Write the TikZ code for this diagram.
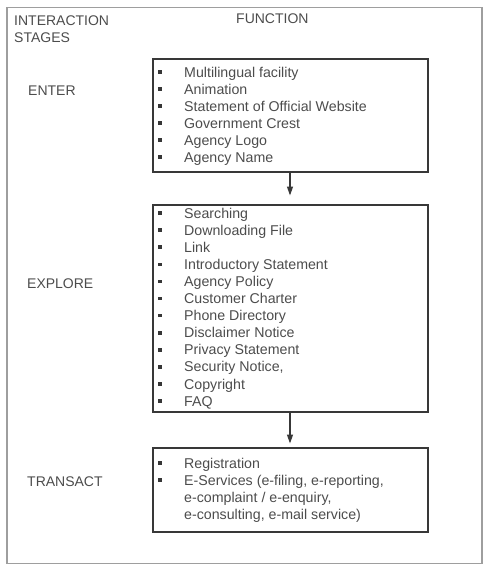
\documentclass[tikz,border=0pt]{standalone}
\usepackage{fontspec}
\setmainfont{Liberation Sans}
\usetikzlibrary{arrows.meta}
\definecolor{txt}{gray}{0.30}
\definecolor{boxc}{gray}{0.22}
\definecolor{framec}{gray}{0.62}
\begin{document}
\begin{tikzpicture}[x=1pt,y=-1pt,
  lbl/.style={anchor=base west,inner sep=0pt,text=txt,font=\fontsize{14}{17}\selectfont},
  item/.style={anchor=base west,inner sep=0pt,text=txt,font=\fontsize{14.2}{17}\selectfont},
  bul/.style={rectangle,fill=txt!70!black,inner sep=0pt,minimum size=3.6pt},
  fbox/.style={draw=boxc,line width=1.5pt,inner sep=0pt},
  arr/.style={draw=boxc,line width=1.3pt,-{Triangle[length=9pt,width=6pt]}}]
\useasboundingbox (0,0) rectangle (484,565);
\node[draw=framec,line width=1.3pt,minimum width=475pt,minimum height=556pt,inner sep=0pt] (frame) at (244.5,285.5) {};
\node[lbl] (ia) at (14,25) {INTERACTION};
\node[lbl] (st) at (14,42) {STAGES};
\node[lbl] (fn) at (236,23) {FUNCTION};
\node[lbl] (en) at (28,95) {ENTER};
\node[lbl] (ex) at (27,288) {EXPLORE};
\node[lbl] (tr) at (27,486) {TRANSACT};
% boxes
\node[fbox,minimum width=275pt,minimum height=113pt] (b1) at (290.5,115.5) {};
\node[fbox,minimum width=275pt,minimum height=207pt] (b2) at (290.5,308.5) {};
\node[fbox,minimum width=275pt,minimum height=84pt] (b3) at (290.5,490) {};
% box 1 items
\foreach \t [count=\i from 0] in {Multilingual facility,Animation,Statement of Official Website,Government Crest,Agency Logo,Agency Name}{
  \node[bul] (b1d\i) at (160,72+17*\i) {};
  \node[item] (b1t\i) at (184,77+17*\i) {\t};
}
% box 2 items
\foreach \t [count=\i from 0] in {Searching,Downloading File,Link,Introductory Statement,Agency Policy,Customer Charter,Phone Directory,Disclaimer Notice,Privacy Statement,{Security Notice,},Copyright,FAQ}{
  \node[bul] (b2d\i) at (160,213+17.1*\i) {};
  \node[item] (b2t\i) at (184,218+17.1*\i) {\t};
}
% box 3 items
\node[bul] (b3d0) at (160,463) {};
\node[item] (b3t0) at (184,468) {Registration};
\node[bul] (b3d1) at (160,480) {};
\node[item] (b3t1) at (184,485) {E-Services (e-filing, e-reporting,};
\node[item] (b3t2) at (184,502) {e-complaint / e-enquiry,};
\node[item] (b3t3) at (184,519) {e-consulting, e-mail service)};
% arrows
\coordinate (a1) at (290,195.5);
\coordinate (a2) at (290,443.5);
\draw[arr] (b1.south -| a1) -- (a1);
\draw[arr] (b2.south -| a2) -- (a2);
\end{tikzpicture}
\end{document}
